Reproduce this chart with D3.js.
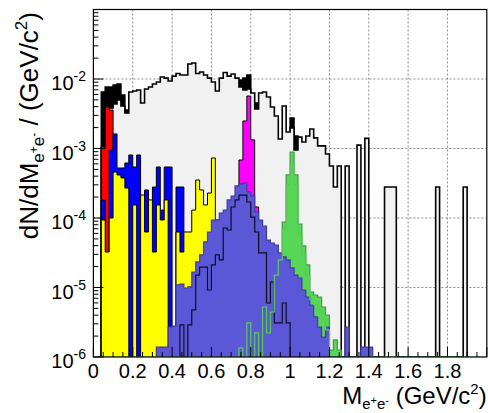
<!DOCTYPE html>
<html>
<head>
<meta charset="utf-8">
<script src="https://cdn.jsdelivr.net/npm/d3@7"></script>
<style>
  body { margin: 0; background: #fff; }
  svg { display: block; }
  text { font-family: "Liberation Sans", Arial, Helvetica, sans-serif; fill: #000; }
</style>
</head>
<body>
<svg id="chart" width="488" height="413"></svg>
<script>
// Binning of all mass spectra: 0.02 GeV/c^2 bins from 0 to 2 GeV/c^2
const BIN_WIDTH = 0.02;
const M_MIN = 0, M_MAX = 2.0;
const Y_MIN = 1e-6, Y_MAX = 1e-1;

// Each spectrum: index of its first bin, then one value per bin
const overflowFirst = 2;   // second (black) spectrum, drawn behind the sum
const overflowValues = [6.5e-3, 7.67e-3, 7.67e-3, 8.2e-3, 8.48e-3, 5.89e-3, 3.58e-3,
  0, 0, 0, 0, 0, 0, 0, 0, 0, 0, 0, 0, 0, 0, 0, 0, 0, 0, 0, 0, 0, 0, 0, 0, 0, 0, 0, 0,
  9.68e-3, 1.03e-2, 1.14e-2, 0, 4.52e-3, 0, 0, 0, 0, 0, 0, 0, 0, 2.75e-3, 1.51e-3];

const sumFirst = 2;        // cocktail sum (grey)
const sumValues = [
  1.05e-3, 4.09e-3, 3.83e-3, 4.37e-3, 4.99e-3, 4.09e-3, 3.24e-3, 6.5e-3, 6.72e-3, 6.95e-3,
  4.52e-3, 7.18e-3, 7.67e-3, 8.48e-3, 9.06e-3, 1.07e-2, 1.03e-2, 9.36e-3,
  1.10e-2, 1.20e-2, 1.14e-2, 1.14e-2, 1.64e-2, 1.70e-2, 1.20e-2, 1.26e-2, 1.14e-2, 1.03e-2,
  9.06e-3, 6.72e-3, 1.03e-2, 1.24e-2, 1.10e-2, 1.18e-2, 1.03e-2,
  7.67e-3, 6.95e-3, 7.18e-3, 6.29e-3, 3.70e-3, 6.29e-3, 6.5e-3, 5.51e-3, 3.96e-3, 2.94e-3,
  1.37e-3, 4.09e-3, 1.73e-3,
  1.97e-3, 9.51e-4, 1.46e-3, 1.24e-3, 1.51e-3, 1.91e-3, 1.42e-3, 1.09e-3, 1.09e-3, 8.34e-4,
  5.6e-4, 2.79e-4, 5.6e-4,
  0, 5.6e-4, 0, 0, 1.12e-3, 0, 1.4e-3, 0, 0, 0, 0, 2.79e-4, 2.79e-4, 2.79e-4,
  0, 0, 0, 0, 0, 0, 0, 0, 0, 0, 2.79e-4, 0, 0, 0, 0, 0, 0, 2.79e-4];

const pi0First = 2;        // red
const pi0Values = [1.0e-3, 3.96e-3, 3.58e-3, 5.0e-4, 1.0e-4];

const etaFirst = 2;        // blue
const etaValues = [1.82e-4, 2.33e-5, 9.51e-4, 1.62e-3, 5.24e-4, 5.24e-4, 6.18e-4, 8.06e-4,
  5.42e-4, 8.06e-4, 1.10e-4, 2.53e-4, 6.72e-5, 2.79e-4, 5.42e-4, 1.30e-4, 5.42e-4, 5.42e-4,
  0, 2.79e-4, 2.79e-4];

const deltaFirst = 2;      // yellow
const deltaValues = [9.36e-5, 3.24e-5, 1.0e-4, 4.59e-4, 4.16e-4, 3.77e-4, 2.70e-4, 0,
  1.54e-4, 0, 2.14e-4, 6.29e-5, 1.82e-4, 3.24e-5, 1.54e-4, 9.36e-5, 1.82e-4, 0, 0,
  6.29e-5, 3.24e-5, 6.29e-5, 6.29e-5, 1.30e-4, 3.52e-4, 2.53e-4, 1.54e-4, 2.29e-4,
  7.30e-4, 9.36e-5, 6.72e-5];

const omegaFirst = 36;     // magenta
const omegaValues = [2.14e-4, 6.83e-4, 2.49e-3, 5.69e-3, 1.33e-3, 1.44e-4];

const phiFirst = 46;       // green, filled
const phiValues = [1.37e-5, 2.66e-5, 8.75e-5, 4.16e-4, 8.91e-4, 4.16e-4, 8.2e-5, 3.96e-5,
  2.11e-5, 8.61e-6, 7.8e-6, 7.3e-6, 5.24e-6, 4.02e-6, 1.26e-6, 1.76e-6, 1.26e-6];

const rhoFirst = 16;       // slate blue
const rhoValues = [1.39e-6, 1.39e-6, 1.39e-6, 2.70e-6, 2.79e-6,
  1.09e-5, 1.12e-5, 9.84e-6, 1.02e-5, 1.67e-5, 2.33e-5, 2.94e-5, 4.52e-5, 6.29e-5, 9.36e-5,
  9.36e-5, 1.18e-4, 1.30e-4, 1.82e-4, 2.07e-4, 2.89e-4, 3.09e-4, 3.19e-4, 2.37e-4, 2.07e-4,
  1.22e-4, 9.36e-5, 7.67e-5, 4.82e-5, 4.37e-5, 4.09e-5, 3.14e-5, 2.75e-5, 2.49e-5, 1.91e-5,
  1.51e-5, 1.37e-5, 9.2e-6, 7.3e-6, 5.6e-6, 3.77e-6, 2.70e-6, 1.94e-6, 2.70e-6, 0,
  0, 0, 0, 2.70e-6, 0, 0, 0, 1.39e-6, 1.39e-6, 1.39e-6];

const omegaDalitzFirst = 22; // black outline
const omegaDalitzValues = [2.89e-6, 0, 2.89e-6, 4.75e-6, 1.51e-5, 1.97e-5, 1.97e-5, 9.2e-6,
  2.11e-5, 2.94e-5, 2.49e-5, 7.18e-5, 6.72e-5, 1.44e-4, 1.82e-4, 2.14e-4, 2.14e-4, 1.70e-4,
  1.03e-4, 6.29e-5, 3.14e-5, 3.14e-5, 5.98e-6, 1.20e-5, 3.09e-6, 3.09e-6, 5.98e-6, 3.09e-6];

const phiDalitzFirst = 37;   // light green outline
const phiDalitzValues = [1.35e-6, 0, 3.09e-6, 0, 2.22e-6, 0, 5.24e-6, 2.22e-6, 4.44e-6,
  1.51e-5, 2.49e-5, 6.72e-5, 2.98e-4, 5.79e-4, 2.98e-4, 5.69e-5, 2.94e-5, 1.51e-5, 6.61e-6,
  5.6e-6, 4.75e-6, 3.41e-6, 2.45e-6];

// Axis ticks
const xMajorTicks = [0, 0.2, 0.4, 0.6, 0.8, 1.0, 1.2, 1.4, 1.6, 1.8];
const xTickLabels = ["0", "0.2", "0.4", "0.6", "0.8", "1", "1.2", "1.4", "1.6", "1.8"];
const yDecades = [1e-6, 1e-5, 1e-4, 1e-3, 1e-2, 1e-1];
const yTickExponents = ["-6", "-5", "-4", "-3", "-2"];

// ---------------------------------------------------------------
const svg = d3.select("#chart");
const plot = { left: 93.4, right: 486.8, top: 9.5, bottom: 357 };

const x = d3.scaleLinear().domain([M_MIN, M_MAX]).range([plot.left, plot.right]);
const y = d3.scaleLog().domain([Y_MIN, Y_MAX]).range([plot.bottom, plot.top]);

svg.append("defs").append("clipPath").attr("id", "frameClip")
  .append("rect")
  .attr("x", plot.left).attr("y", plot.top)
  .attr("width", plot.right - plot.left).attr("height", plot.bottom - plot.top);

// grid
const grid = svg.append("g").attr("stroke", "#8c8c8c").attr("stroke-width", 1)
  .attr("stroke-dasharray", "2,2");
xMajorTicks.filter(t => t > 0).forEach(t => {
  grid.append("line").attr("x1", x(t)).attr("x2", x(t))
    .attr("y1", plot.top).attr("y2", plot.bottom);
});
yDecades.filter(d => d > Y_MIN && d < Y_MAX).forEach(d => {
  grid.append("line").attr("x1", plot.left).attr("x2", plot.right)
    .attr("y1", y(d)).attr("y2", y(d));
});

// staircase outline of a histogram, closed down to the frame bottom
const line = d3.line();
function stairs(first, values, lastBin) {
  const pts = [];
  const n = lastBin !== undefined ? lastBin - first + 1 : values.length;
  pts.push([x(first * BIN_WIDTH), y(Y_MIN)]);
  for (let i = 0; i < n; i++) {
    const v = i < values.length ? values[i] : 0;
    const lo = (first + i) * BIN_WIDTH, hi = lo + BIN_WIDTH;
    const yy = v > 0 ? y(Math.min(Math.max(v, Y_MIN), Y_MAX)) : y(Y_MIN);
    pts.push([x(lo), yy], [x(hi), yy]);
  }
  pts.push([x((first + n) * BIN_WIDTH), y(Y_MIN)]);
  return line(pts);
}

const hists = svg.append("g").attr("clip-path", "url(#frameClip)")
  .attr("stroke-linejoin", "miter");

function draw(first, values, fill, stroke, width, lastBin) {
  hists.append("path")
    .attr("d", stairs(first, values, lastBin))
    .attr("fill", fill)
    .attr("stroke", stroke)
    .attr("stroke-width", width);
}

draw(overflowFirst, overflowValues, "#000000", "#000000", 1.5);
draw(sumFirst, sumValues, "#f1f1f1", "#000000", 1.6);
draw(pi0First, pi0Values, "#ff0000", "#000000", 1);
draw(etaFirst, etaValues, "#0000ff", "#000000", 1);
draw(deltaFirst, deltaValues, "#ffff00", "#000000", 1);
draw(omegaFirst, omegaValues, "#ff00ff", "#000000", 1);
draw(phiFirst, phiValues, "#57d657", "#3d9e3d", 1.2);
draw(rhoFirst, rhoValues, "#5b57d6", "#3e3b9e", 1.2);
draw(omegaDalitzFirst, omegaDalitzValues, "none", "#0d0d26", 1.2);
draw(0, new Array(phiDalitzFirst).fill(0).concat(phiDalitzValues), "none", "#5cc85c", 1.2,
  Math.round(M_MAX / BIN_WIDTH) - 1);

// frame
svg.append("rect")
  .attr("x", plot.left).attr("y", plot.top)
  .attr("width", plot.right - plot.left).attr("height", plot.bottom - plot.top)
  .attr("fill", "none").attr("stroke", "#000").attr("stroke-width", 1.2);

// ticks
const ticks = svg.append("g").attr("stroke", "#000").attr("stroke-width", 1);
for (let m = 0; m <= M_MAX + 1e-9; m += 0.05) {
  const mm = Math.round(m * 100) / 100;
  const major = Math.abs(mm / 0.2 - Math.round(mm / 0.2)) < 1e-6;
  ticks.append("line").attr("x1", x(mm)).attr("x2", x(mm))
    .attr("y1", plot.bottom).attr("y2", plot.bottom - (major ? 10 : 5));
}
yDecades.forEach(d => {
  if (d < Y_MAX) {
    for (let f = 1; f <= 9; f++) {
      const v = d * f;
      ticks.append("line").attr("x1", plot.left).attr("x2", plot.left + (f === 1 ? 10 : 5))
        .attr("y1", y(v)).attr("y2", y(v));
    }
  }
});

// x tick labels
xMajorTicks.forEach((t, i) => {
  svg.append("text").attr("x", x(t)).attr("y", 378)
    .attr("text-anchor", "middle").attr("font-size", 20)
    .text(xTickLabels[i]);
});

// y tick labels 10^n
yTickExponents.forEach((e, i) => {
  const t = svg.append("text").attr("x", 86).attr("y", y(yDecades[i]) + 11)
    .attr("text-anchor", "end").attr("font-size", 20);
  t.append("tspan").text("10");
  t.append("tspan").attr("font-size", 14).attr("dy", -9).text(e);
});

// x axis title
const xt = svg.append("text").attr("x", 486.7).attr("y", 404)
  .attr("text-anchor", "end").attr("font-size", 24);
xt.append("tspan").text("M");
xt.append("tspan").attr("font-size", 15).attr("dy", 5).text("e");
xt.append("tspan").attr("font-size", 11).attr("dy", -5).text("+");
xt.append("tspan").attr("font-size", 15).attr("dy", 5).text("e");
xt.append("tspan").attr("font-size", 11).attr("dy", -5).text("-");
xt.append("tspan").attr("dy", 0).text(" (GeV/c");
xt.append("tspan").attr("font-size", 15).attr("dy", -10).text("2");
xt.append("tspan").attr("dy", 10).text(")");

// y axis title
const yt = svg.append("text").attr("transform", "translate(38,12) rotate(-90)")
  .attr("text-anchor", "end").attr("font-size", 26);
yt.append("tspan").text("dN/dM");
yt.append("tspan").attr("font-size", 17).attr("dy", 6).text("e");
yt.append("tspan").attr("font-size", 12).attr("dy", -6).text("+");
yt.append("tspan").attr("font-size", 17).attr("dy", 6).text("e");
yt.append("tspan").attr("font-size", 12).attr("dy", -6).text("-");
yt.append("tspan").attr("dy", 0).text(" / (GeV/c");
yt.append("tspan").attr("font-size", 17).attr("dy", -11).text("2");
yt.append("tspan").attr("dy", 11).text(")");
</script>
</body>
</html>
